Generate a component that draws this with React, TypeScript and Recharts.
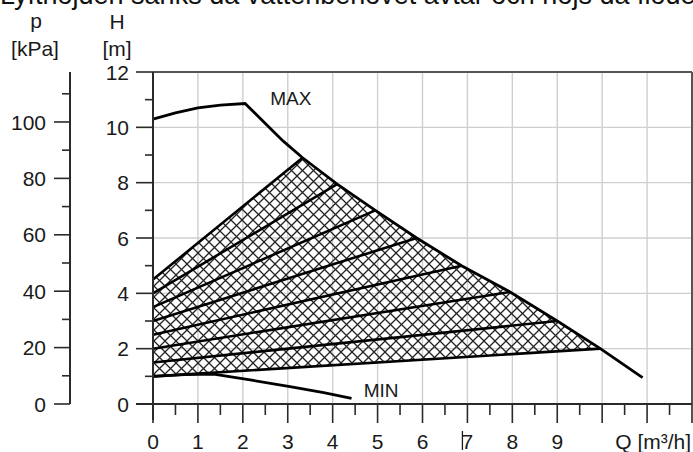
import React from 'react';
import {
  ComposedChart,
  XAxis,
  YAxis,
  CartesianGrid,
  Area,
  Line,
  ReferenceLine,
  ReferenceDot,
} from 'recharts';

// MAX curve (Q in m³/h, H in m)
const maxQ = [0, 0.5, 1, 1.5, 2.05, 2.9, 3.33, 4.1, 4.95, 5.87, 6.87, 7.95, 9.0, 9.96, 10.9];
const maxH = [10.3, 10.52, 10.7, 10.8, 10.86, 9.5, 8.9, 7.95, 7.0, 6.0, 5.0, 4.05, 3.0, 2.0, 0.95];

// MIN curve
const minQ = [0, 0.7, 1.35, 2.2, 3.05, 3.8, 4.42];
const minH = [1.0, 1.06, 1.08, 0.86, 0.63, 0.41, 0.2];

// hatched working range
const hatchQ = [0, 3.33, 4.1, 4.95, 5.87, 6.87, 7.95, 9.0, 9.96];
const hatchTop = [4.5, 8.9, 7.95, 7.0, 6.0, 5.0, 4.05, 3.0, 2.0];
const hatchBottom = [1.0, 1.33, 1.41, 1.5, 1.59, 1.69, 1.8, 1.9, 2.0];

// control curves: from H axis to MAX curve
const ctrlStartH = [4.5, 4.0, 3.5, 3.0, 2.5, 2.0, 1.5, 1.0];
const ctrlEndQ = [3.33, 4.1, 4.95, 5.87, 6.87, 7.95, 9.0, 9.96];
const ctrlEndH = [8.9, 7.95, 7.0, 6.0, 5.0, 4.05, 3.0, 2.0];

const qTicks = [0, 0.5, 1, 1.5, 2, 2.5, 3, 3.5, 4, 4.5, 5, 5.5, 6, 6.5, 7, 7.5, 8, 8.5, 9, 9.5, 10, 10.5, 11, 11.5, 12];
const qLabels = [0, 1, 2, 3, 4, 5, 6, 7, 8, 9];
const hTicks = [0, 1, 2, 3, 4, 5, 6, 7, 8, 9, 10, 11, 12];
const hLabels = [0, 2, 4, 6, 8, 10, 12];
const pTicks = [0, 10, 20, 30, 40, 50, 60, 70, 80, 90, 100, 110];
const pLabels = [0, 20, 40, 60, 80, 100];
const gridQ = [1, 2, 3, 4, 5, 6, 7, 8, 9, 10, 11];
const gridH = [2, 4, 6, 8, 10];

const maxData = maxQ.map((q, i) => ({ q, h: maxH[i] }));
const minData = minQ.map((q, i) => ({ q, h: minH[i] }));
const hatchData = hatchQ.map((q, i) => ({ q, range: [hatchBottom[i], hatchTop[i]] }));
const ctrlData = ctrlStartH.map((h0, i) => [
  { q: 0, h: h0 },
  { q: ctrlEndQ[i], h: ctrlEndH[i] },
]);

const FONT = '"Liberation Sans", Arial, sans-serif';
const INK = '#1a1a1a';
const AXIS = '#2a2a2a';

const QTick = (props: any) => {
  const { x, y, payload } = props;
  const v = payload.value;
  const major = Number.isInteger(v);
  return (
    <g>
      <line x1={x} x2={x} y1={y} y2={y + (major ? 19 : 11)} stroke={AXIS} strokeWidth={1.6} />
      {v === 0 && <line x1={x - 17} x2={x} y1={y} y2={y} stroke={AXIS} strokeWidth={2} />}
      {qLabels.includes(v) && (
        <text x={x} y={y + 45} textAnchor="middle" fontSize={21} fontFamily={FONT} fill={INK}>
          {v}
        </text>
      )}
      {v === 7 && <line x1={x - 5} x2={x - 5} y1={y + 27} y2={y + 46} stroke={INK} strokeWidth={1.3} />}
      {v === 11 && (
        <text x={x + 44} y={y + 45} textAnchor="end" fontSize={21} fontFamily={FONT} fill={INK}>
          Q [m³/h]
        </text>
      )}
    </g>
  );
};

const HTick = (props: any) => {
  const { x, y, payload } = props;
  const v = payload.value;
  const major = hLabels.includes(v);
  return (
    <g>
      <line x1={x - (major ? 17 : 8)} x2={x} y1={y} y2={y} stroke={AXIS} strokeWidth={1.6} />
      {v === 0 && <line x1={x} x2={x} y1={y} y2={y + 16} stroke={AXIS} strokeWidth={2} />}
      {major && (
        <text x={x - 24} y={y} dy="0.36em" textAnchor="end" fontSize={21} fontFamily={FONT} fill={INK}>
          {v}
        </text>
      )}
    </g>
  );
};

const PTick = (props: any) => {
  const { x, y, payload } = props;
  const v = payload.value;
  const major = pLabels.includes(v);
  return (
    <g>
      <line x1={x - (major ? 16 : 8)} x2={x} y1={y} y2={y} stroke={AXIS} strokeWidth={1.6} />
      {major && (
        <text x={x - 24} y={y} dy="0.36em" textAnchor="end" fontSize={21} fontFamily={FONT} fill={INK}>
          {v}
        </text>
      )}
    </g>
  );
};

export default function App() {
  return (
    <div style={{ position: 'relative', width: 693, height: 452, background: '#fff' }}>
      <style>{'body{margin:0;background:#fff}'}</style>
      <ComposedChart width={693} height={452} margin={{ top: 72, right: 1, bottom: 0, left: 0 }}>
        <defs>
          <pattern id="hatch" patternUnits="userSpaceOnUse" width={11} height={11}>
            <path d="M0,0 L11,11 M-1,10 L1,12 M10,-1 L12,1" stroke="#222" strokeWidth={1.3} />
            <path d="M0,11 L11,0 M-1,1 L1,-1 M10,12 L12,10" stroke="#222" strokeWidth={1.3} />
          </pattern>
        </defs>
        <CartesianGrid
          yAxisId="h"
          verticalValues={gridQ}
          horizontalValues={gridH}
          stroke="#cfcfcf"
          strokeWidth={1.4}
        />
        <XAxis
          dataKey="q"
          type="number"
          domain={[0, 12]}
          ticks={qTicks}
          interval={0}
          height={48}
          tickSize={0}
          tickMargin={0}
          tick={<QTick />}
          axisLine={{ stroke: AXIS, strokeWidth: 2 }}
          allowDuplicatedCategory={false}
        />
        <YAxis
          yAxisId="h"
          type="number"
          domain={[0, 12]}
          ticks={hTicks}
          interval={0}
          width={83}
          tickSize={0}
          tickMargin={0}
          tick={<HTick />}
          axisLine={{ stroke: AXIS, strokeWidth: 2 }}
        />
        <YAxis
          yAxisId="p"
          type="number"
          domain={[0, 117.72]}
          allowDataOverflow
          ticks={pTicks}
          interval={0}
          width={70}
          tickSize={0}
          tickMargin={0}
          tick={<PTick />}
          axisLine={{ stroke: AXIS, strokeWidth: 2 }}
        />
        <ReferenceLine yAxisId="h" y={12} stroke="#555" strokeWidth={2} />
        <ReferenceLine yAxisId="h" x={12} stroke="#555" strokeWidth={2} />
        <Area
          yAxisId="h"
          data={hatchData}
          dataKey="range"
          type="linear"
          stroke="none"
          fill="url(#hatch)"
          fillOpacity={1}
          isAnimationActive={false}
          dot={false}
          activeDot={false}
        />
        {ctrlData.map((d, i) => (
          <Line
            key={i}
            yAxisId="h"
            data={d}
            dataKey="h"
            type="linear"
            stroke="#000"
            strokeWidth={2.6}
            dot={false}
            activeDot={false}
            isAnimationActive={false}
          />
        ))}
        <Line
          yAxisId="h"
          data={maxData}
          dataKey="h"
          type="linear"
          stroke="#000"
          strokeWidth={2.8}
          dot={false}
          activeDot={false}
          isAnimationActive={false}
        />
        <Line
          yAxisId="h"
          data={minData}
          dataKey="h"
          type="linear"
          stroke="#000"
          strokeWidth={2.8}
          dot={false}
          activeDot={false}
          isAnimationActive={false}
        />
        <ReferenceDot
          yAxisId="h"
          x={3.07}
          y={11.05}
          r={0}
          label={{ value: 'MAX', position: 'center', fontSize: 19, fontFamily: FONT, fill: INK }}
        />
        <ReferenceDot
          yAxisId="h"
          x={5.08}
          y={0.5}
          r={0}
          label={{ value: 'MIN', position: 'center', fontSize: 19, fontFamily: FONT, fill: INK }}
        />
      </ComposedChart>
      <svg
        width={693}
        height={452}
        style={{ position: 'absolute', left: 0, top: 0, pointerEvents: 'none' }}
      >
        <text x={0} y={4} fontSize={27} fontFamily={FONT} fill="#111">
          Lyfthöjden sänks då vattenbehovet avtar och höjs då flödet ökar
        </text>
        <text x={36} y={28} textAnchor="middle" fontSize={21} fontFamily={FONT} fill={INK}>p</text>
        <text x={35} y={56} textAnchor="middle" fontSize={21} fontFamily={FONT} fill={INK}>[kPa]</text>
        <text x={117} y={29} textAnchor="middle" fontSize={21} fontFamily={FONT} fill={INK}>H</text>
        <text x={117} y={56} textAnchor="middle" fontSize={21} fontFamily={FONT} fill={INK}>[m]</text>
      </svg>
    </div>
  );
}
